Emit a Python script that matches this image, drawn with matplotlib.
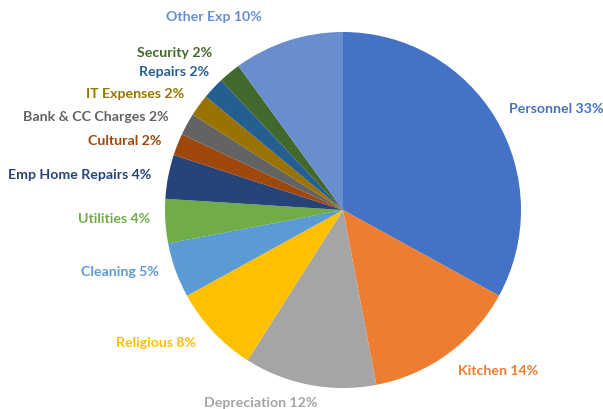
import matplotlib
matplotlib.use("Agg")
import matplotlib.pyplot as plt

categories = ["Personnel", "Kitchen", "Depreciation", "Religious", "Cleaning",
              "Utilities", "Emp Home Repairs", "Cultural", "Bank & CC Charges",
              "IT Expenses", "Repairs", "Security", "Other Exp"]
shares = [33, 14, 12, 8, 5, 4, 4, 2, 2, 2, 2, 2, 10]
colors = ["#4472C4", "#ED7D31", "#A5A5A5", "#FFC000", "#5B9BD5", "#70AD47",
          "#264478", "#9E480E", "#636363", "#997300", "#255E91", "#43682B",
          "#698ED0"]

# label centres in pixels (x, y from top)
label_pos = [(556, 109), (498, 371), (261, 403), (156, 343), (120, 272),
             (114, 219), (80, 175), (125, 141), (96, 117), (135, 94),
             (174, 72), (175, 53), (214, 17)]

fig = plt.figure(figsize=(6.03, 4.09), dpi=100)
ax = fig.add_axes([0, 0, 1, 1])

# y axis is inverted, so counterclock=True draws clockwise on screen
ax.pie(shares, colors=colors, startangle=-90, counterclock=True,
       center=(343, 210), radius=178, frame=True,
       wedgeprops=dict(linewidth=0))
ax.set_xlim(0, 603)
ax.set_ylim(409, 0)
ax.set_aspect("equal")
ax.axis("off")

for name, val, col, (x, y) in zip(categories, shares, colors, label_pos):
    ax.text(x, y, f"{name} {val}%", color=col, ha="center", va="center",
            fontsize=10.2, fontweight="bold", family="Lato")

fig.savefig("out.png", dpi=100)
